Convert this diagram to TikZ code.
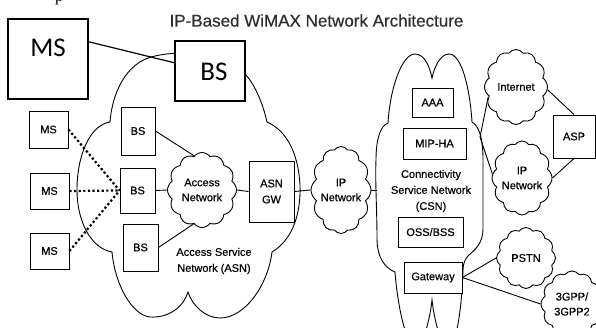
\documentclass[tikz,border=0pt]{standalone}
\usepackage{fontspec}
\setmainfont{Liberation Sans}[FakeBold=0.5]
\newfontfamily\calfont{Carlito}
\newfontfamily\serfont{Liberation Serif}
\usetikzlibrary{shapes.symbols}

\tikzset{
  box/.style={draw, line width=0.9pt, fill=white, inner sep=0pt,
    align=center, font=\fontsize{11}{14}\selectfont},
  bigbox/.style={draw, line width=1.3pt, fill=white, inner sep=0pt},
  bigtxt/.style={font=\calfont\fontsize{27}{30}\selectfont, inner sep=0pt},
  puff/.style={cloud, draw, line width=0.9pt, cloud puffs=12, cloud puff arc=110,
    cloud ignores aspect, inner sep=0pt, align=center, fill=white,
    font=\fontsize{11}{15}\selectfont},
  outline/.style={line width=0.9pt},
  link/.style={line width=0.9pt},
  wireless/.style={line width=2.2pt, dash pattern=on 2.2pt off 2.4pt},
  lbl/.style={align=center, inner sep=0pt, font=\fontsize{11}{16}\selectfont},
}

\begin{document}
\begin{tikzpicture}[x=1pt, y=-1pt]
\useasboundingbox (0,0) rectangle (596,327);
\clip (0,0) rectangle (596,327);

% access service network outline
\draw[outline] (110,122)
  .. controls (112,95) and (125,62) .. (155,56)
  .. controls (190,48) and (235,58) .. (250,80)
  .. controls (258,92) and (264,108) .. (267,122)
  .. controls (285,130) and (298,150) .. (300,185)
  .. controls (301,215) and (292,240) .. (272,252)
  .. controls (268,285) and (245,318) .. (220,318)
  .. controls (205,318) and (192,305) .. (188,292)
  .. controls (183,308) and (168,318) .. (150,317)
  .. controls (132,315) and (115,285) .. (112,252)
  .. controls (90,248) and (77,220) .. (77,190)
  .. controls (77,155) and (90,125) .. (110,122) -- cycle;

% connectivity service network outline
\draw[outline] (388,123)
  .. controls (390,88) and (402,54) .. (415,54)
  .. controls (425,54) and (430,68) .. (432,78)
  .. controls (434,68) and (440,54) .. (449,54)
  .. controls (462,54) and (470,90) .. (472,122)
  .. controls (479,126) and (483,138) .. (483,160)
  -- (483,228)
  .. controls (483,245) and (474,250) .. (468,256)
  .. controls (465,259) and (463,264) .. (463,270)
  .. controls (462,300) and (458,345) .. (448,345)
  .. controls (440,345) and (434,318) .. (432,300)
  .. controls (430,318) and (424,345) .. (415,345)
  .. controls (405,345) and (397,300) .. (395,272)
  .. controls (385,268) and (377,258) .. (377,238)
  .. controls (377,210) and (375,180) .. (376,160)
  .. controls (376,140) and (380,126) .. (388,123) -- cycle;

\coordinate (csnL) at (377,190);
\coordinate (csnR) at (480,137);

% title and heading fragment
\node[font=\fontsize{17}{18}\selectfont, text=black!82] (title) at (316.5,20.5)
  {IP-Based WiMAX Network Architecture};
\node[font=\serfont\fontsize{16}{16}\selectfont, anchor=base, inner sep=0pt] (pfrag)
  at (59,1.5) {p};

% enlarged MS / BS
\node[bigbox, minimum width=80pt, minimum height=80pt] (msbig) at (48,59) {};
\node[bigtxt] (msbigt) at (48,48) {MS};
\node[bigbox, minimum width=70pt, minimum height=60pt] (bsbig) at (210,71) {};
\node[bigtxt] (bsbigt) at (214,72) {BS};
\draw[link, line width=1.2pt] (msbig.23) -- (bsbig.167);

% mobile stations
\node[box, minimum width=39pt, minimum height=37pt] (ms1) at (48.5,129.5) {MS};
\node[box, minimum width=39pt, minimum height=36pt] (ms2) at (49.5,191) {MS};
\node[box, minimum width=39pt, minimum height=36pt] (ms3) at (49.5,251) {MS};

% base stations
\node[box, minimum width=34pt, minimum height=48pt] (bs1) at (138,131) {BS};
\node[box, minimum width=35pt, minimum height=45pt] (bs2) at (137.5,190.5) {BS};
\node[box, minimum width=35pt, minimum height=47pt] (bs3) at (140.5,247.5) {BS};

% ASN internals
\node[puff, minimum width=69pt, minimum height=75pt] (an) at (202,190) {Access\\Network};
\node[box, minimum width=45pt, minimum height=61pt, font=\fontsize{11}{16}\selectfont]
  (asngw) at (271.5,191.5) {ASN\\GW};
\node[lbl] (asnlbl) at (214,261) {Access Service\\Network (ASN)};

% IP network between ASN and CSN
\node[puff, minimum width=60pt, minimum height=87pt] (ipn) at (341,190) {IP\\Network};

% CSN internals
\node[box, minimum width=41pt, minimum height=29pt] (aaa) at (432.5,102.5) {AAA};
\node[box, minimum width=63pt, minimum height=31pt] (mip) at (434.5,143.5) {MIP-HA};
\node[lbl] (csnlbl) at (431,191) {Connectivity\\Service Network\\(CSN)};
\node[box, minimum width=65pt, minimum height=30pt] (oss) at (430.5,232) {OSS/BSS};
\node[box, minimum width=58pt, minimum height=31pt] (gw) at (433,277.5) {Gateway};

% external networks
\node[puff, minimum width=63pt, minimum height=75pt] (inet) at (516,87) {Internet};
\node[puff, minimum width=60pt, minimum height=74pt] (ipr) at (522,178) {IP\\Network};
\node[box, minimum width=42pt, minimum height=43pt] (asp) at (574,136.5) {ASP};
\node[puff, minimum width=59pt, minimum height=61pt] (pstn) at (526,258) {PSTN};
\node[puff, minimum width=62pt, minimum height=66pt] (gpp) at (572,304) {3GPP/\\3GPP2};

% radio links
\draw[wireless] (ms1.east) -- (bs2.west);
\draw[wireless] (ms2.east) -- (bs2.west);
\draw[wireless] (ms3.east) -- (bs2.west);

% wired links
\draw[link] (bs1.east) -- (an.103);
\draw[link] (bs2.east) -- (an.west);
\draw[link] (bs3.east) -- (an.256);
\draw[link] (an.east) -- (asngw.west);
\draw[link] (asngw.east) -- (ipn.west);
\draw[link] (ipn.east) -- (csnL);
\draw[link] (csnR) -- (inet.200);
\draw[link] (csnR) -- (ipr.172);
\draw[link] (inet.-5) -- (asp.north);
\draw[link] (ipr.east) -- (asp.south);
\draw[link] (gw.east) -- (pstn.west);
\draw[link] (gw.east) -- (gpp.west);
\end{tikzpicture}
\end{document}
